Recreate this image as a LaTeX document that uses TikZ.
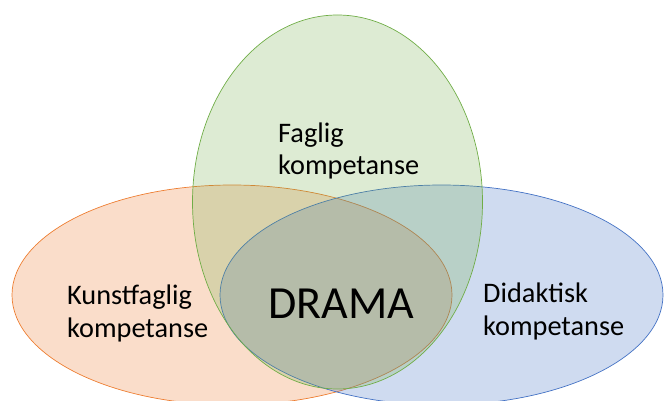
\documentclass[tikz,border=0pt]{standalone}
\usepackage{fontspec}
\setmainfont{Carlito}
\definecolor{kunstcol}{HTML}{ED7D31}
\definecolor{didcol}{HTML}{4472C4}
\definecolor{fagcol}{HTML}{70AD47}
\begin{document}
\begin{tikzpicture}[x=1pt,y=-1pt,
  blob/.style={line width=0.7pt,fill opacity=0.26},
  lbl/.style={font=\fontsize{28.3}{32.5}\selectfont,align=left,anchor=base west,inner sep=0pt}]
\useasboundingbox (0,0) rectangle (664,401);
\begin{scope}
\clip (0,0) rectangle (664,401);
% Kunstfaglig
\draw[blob,draw=kunstcol,fill=kunstcol] (232,295) ellipse (220 and 110);
% Didaktisk
\draw[blob,draw=didcol,fill=didcol] (441.5,295) ellipse (221.5 and 110);
% Faglig
\draw[blob,draw=fagcol,fill=fagcol,fill opacity=0.24] (337.5,202) ellipse (145 and 187);
\end{scope}
\node[lbl] (faglig) at (278,175) {Faglig\\kompetanse};
\node[lbl] (kunst) at (67,337) {Kunstfaglig\\kompetanse};
\node[lbl] (didak) at (483,335) {Didaktisk\\kompetanse};
\node[lbl,font=\fontsize{46}{50}\selectfont] (drama) at (268,318) {DRAMA};
\end{tikzpicture}
\end{document}
